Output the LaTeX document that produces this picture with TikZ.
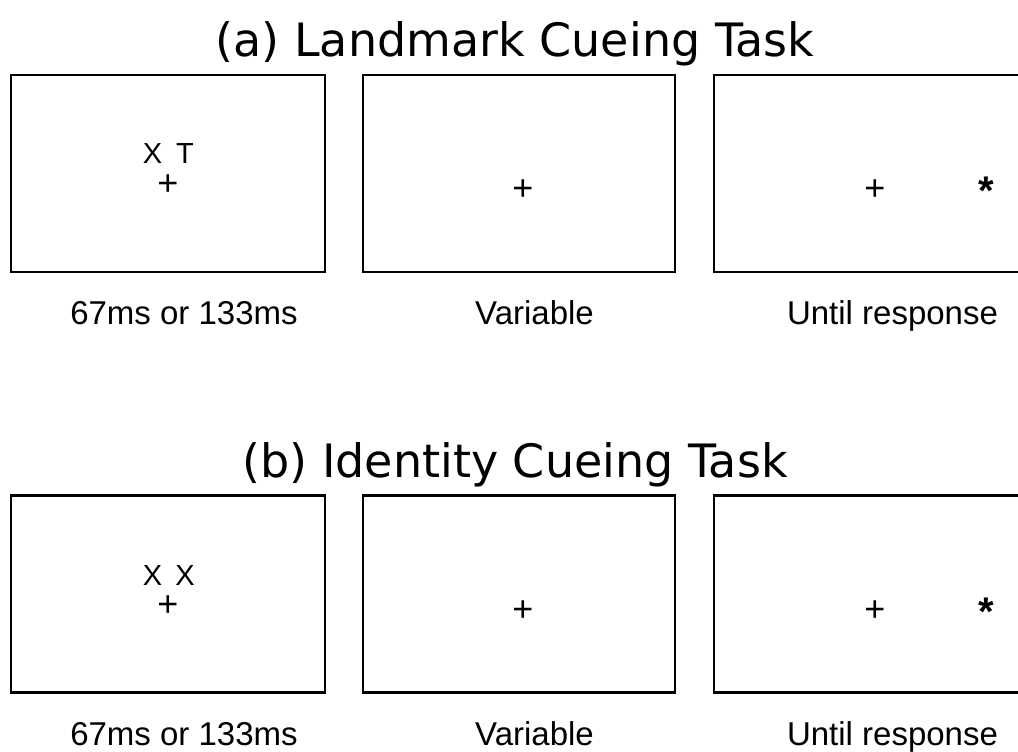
\documentclass[tikz,border=0pt]{standalone}
\usepackage{fontspec}
\setmainfont{Liberation Sans}
\newfontfamily\titlefont{DejaVu Sans}
\begin{document}
\begin{tikzpicture}[x=1pt,y=-1pt,
  panel/.style={draw=black,line width=2.7pt,inner sep=0pt,minimum height=197pt},
  titletext/.style={anchor=base,inner sep=0pt,font=\titlefont\fontsize{46}{52}\selectfont},
  labeltext/.style={anchor=base,inner sep=0pt,font=\fontsize{33}{40}\selectfont},
  lettertext/.style={anchor=base,inner sep=0pt,font=\fontsize{29}{34}\selectfont},
  plustext/.style={anchor=base,inner sep=0pt,font=\fontsize{36}{40}\selectfont},
  startext/.style={anchor=base,inner sep=0pt,font=\bfseries\fontsize{40}{44}\selectfont}]
\clip (0,0) rectangle (1018,752);
\fill[white] (0,0) rectangle (1018,752);
% ---- row (a)
\node[titletext] (ta) at (515,57) {(a) Landmark Cueing Task};
\node[panel,minimum width=314pt] (a1) at (168,173.5) {};
\node[panel,minimum width=312pt] (a2) at (519,173.5) {};
\node[panel,minimum width=312pt] (a3) at (870,173.5) {};
\node[lettertext] (a1x) at (152.5,163) {X};
\node[lettertext] (a1t) at (185,163) {T};
\node[plustext] (a1p) at (168,195) {+};
\node[plustext] (a2p) at (523,200) {+};
\node[plustext] (a3p) at (875,200) {+};
\node[startext] (a3s) at (986,204) {*};
\node[labeltext] (la1) at (184,324) {67ms or 133ms};
\node[labeltext] (la2) at (534.5,324) {Variable};
\node[labeltext] (la3) at (892.5,324) {Until response};
% ---- row (b)
\node[titletext] (tb) at (515,477) {(b) Identity Cueing Task};
\node[panel,minimum width=314pt] (b1) at (168,594) {};
\node[panel,minimum width=312pt] (b2) at (519,594) {};
\node[panel,minimum width=312pt] (b3) at (870,594) {};
\node[lettertext] (b1x) at (152.5,585) {X};
\node[lettertext] (b1y) at (185,585) {X};
\node[plustext] (b1p) at (168,616) {+};
\node[plustext] (b2p) at (523,621) {+};
\node[plustext] (b3p) at (875,621) {+};
\node[startext] (b3s) at (986,625) {*};
\node[labeltext] (lb1) at (184,745) {67ms or 133ms};
\node[labeltext] (lb2) at (534.5,745) {Variable};
\node[labeltext] (lb3) at (892.5,745) {Until response};
\end{tikzpicture}
\end{document}
